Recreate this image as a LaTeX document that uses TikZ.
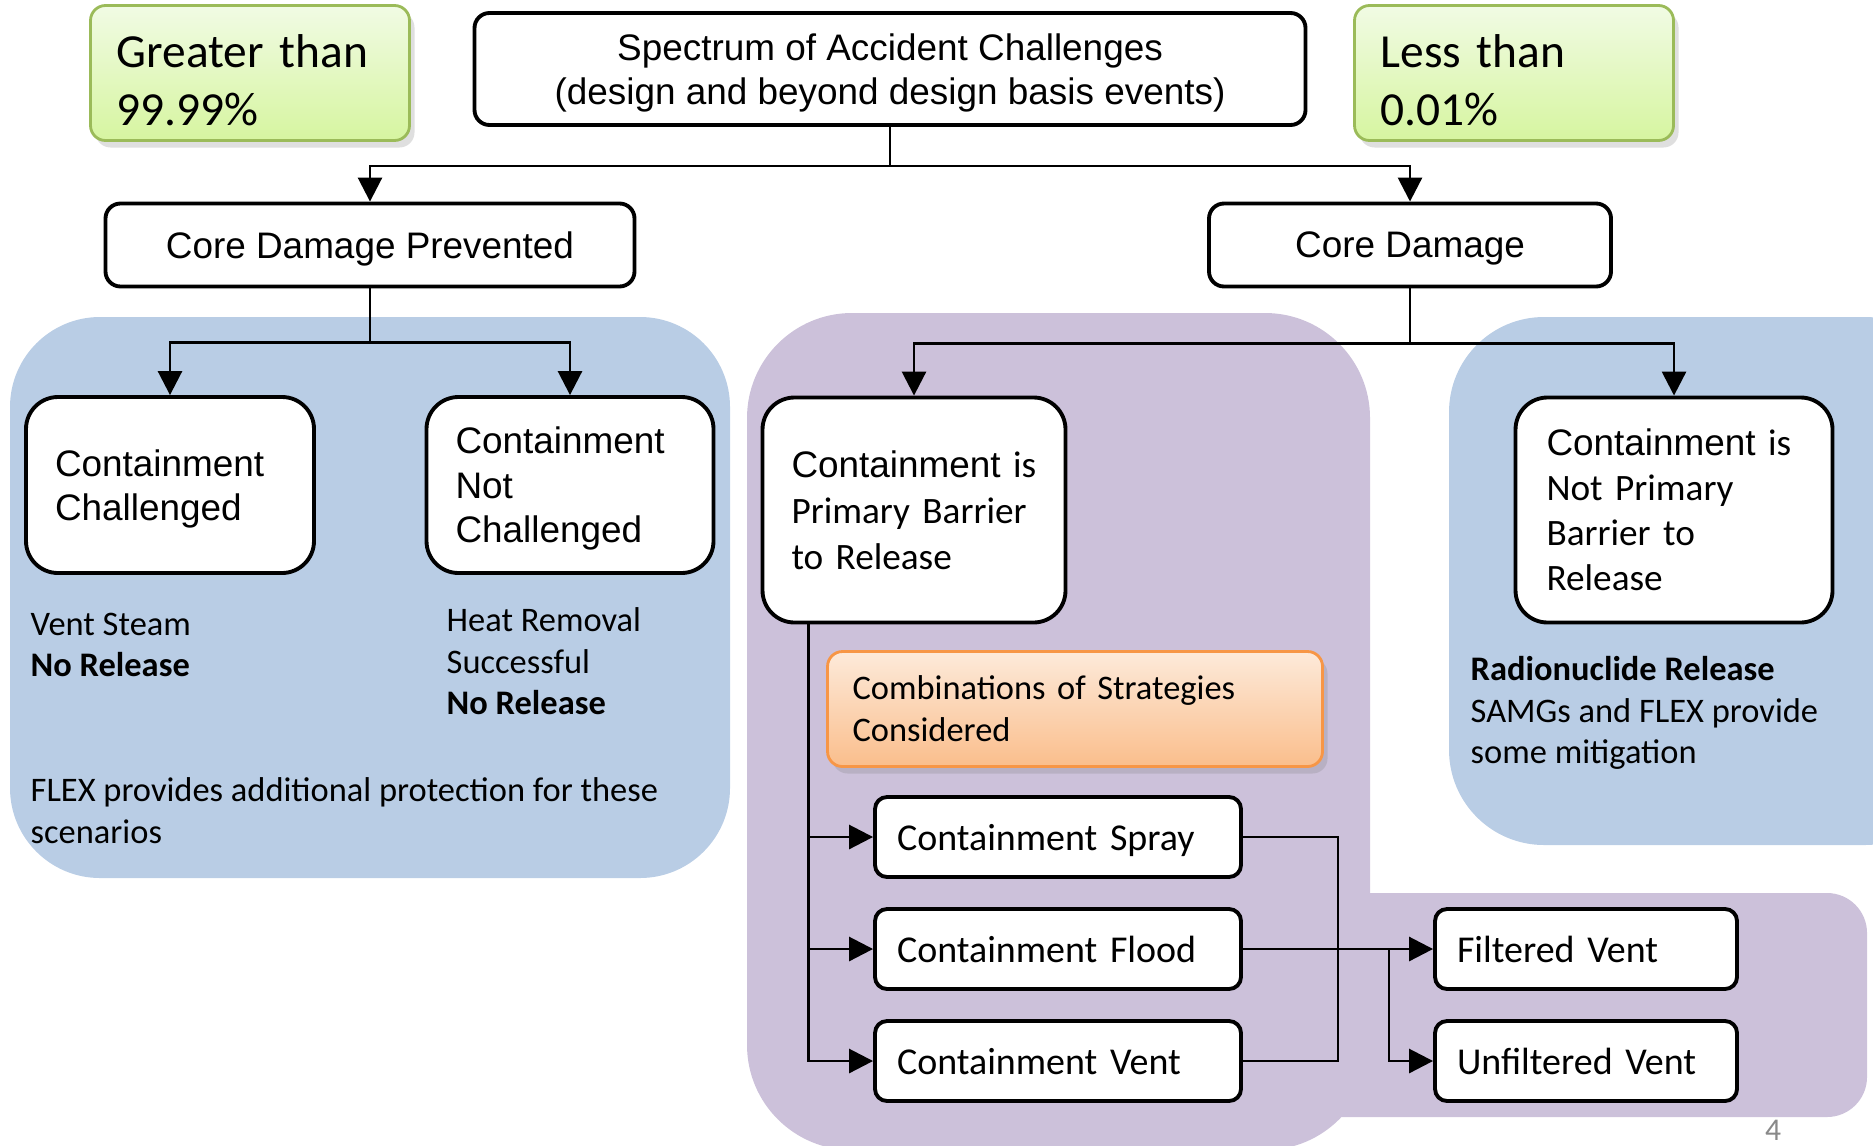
\documentclass[tikz,border=0pt]{standalone}
\usepackage{fontspec}
\setmainfont{Carlito}
\newfontfamily\arialfont{Liberation Sans}
\usetikzlibrary{arrows.meta,shadows}
\definecolor{regionblue}{RGB}{185,205,229}
\definecolor{regionpurple}{RGB}{204,193,218}
\definecolor{probtop}{RGB}{241,251,228}
\definecolor{probbottom}{RGB}{214,245,160}
\definecolor{probedge}{RGB}{155,187,89}
\definecolor{stratop}{RGB}{253,234,218}
\definecolor{strabottom}{RGB}{250,190,140}
\definecolor{straedge}{RGB}{247,150,70}
\definecolor{pagegray}{RGB}{137,137,137}

\begin{document}
\begin{tikzpicture}
    [ x=.1mm, y=-.1mm,
      box/.style={draw, line width=1.1pt, fill=white, rounded corners=1.5mm,
                  inner sep=0pt, font=\arialfont\fontsize{10.5}{12.6}\selectfont},
      flatbox/.style={box, text depth=0pt},
      bigbox/.style={box, rounded corners=3.2mm, align=left},
      smallbox/.style={flatbox, rounded corners=1.2mm, align=left, inner xsep=2.2mm,
                       minimum height=8mm, font=\rmfamily\fontsize{10.8}{13}\selectfont},
      prob/.style={draw=probedge, line width=.8pt, rounded corners=1.5mm,
                   top color=probtop, bottom color=probbottom,
                   drop shadow={opacity=.25, shadow xshift=.5mm, shadow yshift=-.7mm},
                   align=left, inner xsep=2.6mm, text width=26.7mm,
                   minimum height=13.5mm, font=\rmfamily\fontsize{13.5}{16.4}\selectfont},
      strategy/.style={draw=straedge, line width=.8pt, rounded corners=1.5mm,
                   top color=stratop, bottom color=strabottom,
                   drop shadow={opacity=.25, shadow xshift=.5mm, shadow yshift=-.7mm},
                   align=left, inner xsep=2.5mm, text width=44.5mm,
                   minimum height=11.5mm, font=\rmfamily\fontsize{9.8}{12}\selectfont},
      txt/.style={align=left, inner sep=0pt, anchor=north west,
                  font=\rmfamily\fontsize{9.8}{11.8}\selectfont},
      link/.style={line width=.8pt},
      arr/.style={link, -{Triangle[length=2.4mm,width=2.4mm]}},
    ]
    \useasboundingbox (0,0) rectangle (1873,1145);

    % shaded regions
    \fill[regionblue, rounded corners=9mm] (10,317) rectangle (730,878);
    \fill[regionblue, rounded corners=9.5mm] (1449,317) rectangle (1960,845);
    \fill[regionpurple, rounded corners=10.5mm] (747,313) rectangle (1370,1150);
    \fill[regionpurple, rounded corners=4mm] (1250,893) rectangle (1867,1117);

    % top level
    \node[prob] (greater) at (250,73) {\rule{0pt}{13.6pt}Greater than\\99.99\%};
    \node[prob] (less) at (1514,73) {\rule{0pt}{13.6pt}Less than\\0.01\%};
    \node[flatbox, align=center, minimum width=83.1mm, minimum height=11.2mm] (spec)
        at (890,69) {Spectrum of Accident Challenges\\(design and beyond design basis events)};
    \node[flatbox, minimum width=52.9mm, minimum height=8.3mm] (cdp) at (370,245) {Core Damage Prevented};
    \node[flatbox, minimum width=40.2mm, minimum height=8.3mm] (cd) at (1410,245) {Core Damage};

    % containment states
    \node[bigbox, text width=23mm, inner xsep=2.9mm, minimum height=17.6mm] (cc)
        at (170,485) {\rule{0pt}{9.8pt}Containment\\Challenged};
    \node[bigbox, text width=22.9mm, inner xsep=2.9mm, minimum height=17.6mm] (cnc)
        at (570,485) {\rule{0pt}{9.6pt}Containment\\Not\\Challenged};
    \node[bigbox, text width=24.5mm, inner xsep=2.9mm, minimum height=22.5mm,
          font=\rmfamily\fontsize{10.6}{13.1}\selectfont] (cipb)
        at (914,510) {{\arialfont\fontsize{10.5}{13.1}\selectfont Containment} is\\Primary Barrier\\to Release};
    \node[bigbox, text width=25.5mm, inner xsep=3.1mm, minimum height=22.5mm,
          font=\rmfamily\fontsize{10.6}{12.8}\selectfont] (cinpb)
        at (1674,510) {{\arialfont\fontsize{10.5}{12.8}\selectfont Containment} is\\Not Primary\\Barrier to\\Release};

    \node[txt] (steam) at (30,612) {Vent Steam\\\textbf{No Release}};
    \node[txt] (heat) at (446,607) {Heat Removal\\Successful\\\textbf{No Release}};
    \node[txt] (flex) at (30,777) {FLEX provides additional protection for these\\scenarios};
    \node[txt] (release) at (1470,656) {\textbf{Radionuclide Release}\\SAMGs and FLEX provide\\some mitigation};

    % strategies
    \node[strategy] (combo) at (1075,709) {Combinations of Strategies\\Considered};
    \node[smallbox, text width=32.2mm] (spray) at (1058,837) {Containment Spray};
    \node[smallbox, text width=32.2mm] (flood) at (1058,949) {Containment Flood};
    \node[smallbox, text width=32.2mm] (cvent) at (1058,1061) {Containment Vent};
    \node[smallbox, text width=25.8mm] (filt) at (1586,949) {Filtered Vent};
    \node[smallbox, text width=25.8mm] (unfilt) at (1586,1061) {Unfiltered Vent};

    \node[font=\rmfamily\fontsize{9}{10}\selectfont, text=pagegray] (page) at (1773,1130) {4};

    % connectors
    \draw[arr] (spec.south) -- ++(0,39) -| (cdp.north);
    \draw[arr] (spec.south) -- ++(0,39) -| (cd.north);
    \draw[arr] (cdp.south) -- ++(0,54) -| (cc.north);
    \draw[arr] (cdp.south) -- ++(0,54) -| (cnc.north);
    \draw[arr] (cd.south) -- ++(0,55) -| (cipb.north);
    \draw[arr] (cd.south) -- ++(0,55) -| (cinpb.north);

    \coordinate (spine) at ([xshift=4.8mm]cipb.south west);
    \draw[arr] (spine) |- (spray.west);
    \draw[arr] (spine) |- (flood.west);
    \draw[arr] (spine) |- (cvent.west);

    \coordinate (merge) at (1338,949);
    \coordinate (split) at (1389,949);
    \draw[link] (spray.east) -| (merge) |- (cvent.east);
    \draw[arr] (flood.east) -- (filt.west);
    \draw[arr] (split) |- (unfilt.west);
\end{tikzpicture}
\end{document}
